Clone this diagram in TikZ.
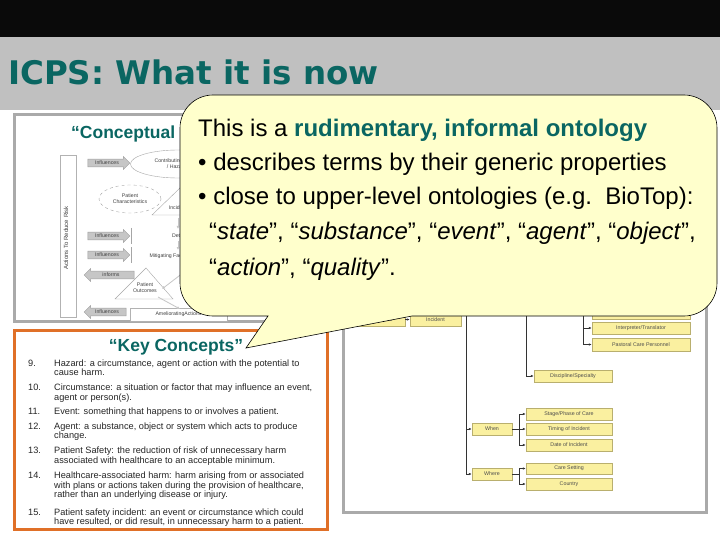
\documentclass[tikz,border=0pt]{standalone}
\usepackage{fontspec}
\setmainfont{Liberation Sans}
\newfontfamily\titlefont{DejaVu Sans}
\usetikzlibrary{shapes.geometric,shapes.arrows,arrows.meta}
\definecolor{tealA}{RGB}{10,102,98}
\definecolor{bandblack}{RGB}{10,10,10}
\definecolor{bandgray}{RGB}{192,192,192}
\definecolor{callfill}{RGB}{255,255,204}
\definecolor{orangeB}{RGB}{224,112,40}
\definecolor{panelgray}{RGB}{170,170,170}
\definecolor{ybox}{RGB}{250,240,160}
\definecolor{yboxb}{RGB}{185,175,110}
\tikzset{
  tinyt/.style={font=\fontsize{5.2}{5.8}\selectfont, text=black!75},
  infl/.style={single arrow, draw=gray!75, fill=gray!45, minimum height=42pt, minimum width=13pt, single arrow head extend=2pt, inner sep=0.8pt, tinyt},
  lg/.style={draw=gray!45, line width=0.8pt, -{Latex[length=3pt,width=3pt]}},
  yb/.style={draw=yboxb, fill=ybox, inner sep=0pt, font=\fontsize{5.3}{5.3}\selectfont, text=black!70},
  tarr/.style={draw=black!80, line width=0.5pt, -{Latex[length=3pt,width=2.4pt]}},
  tline/.style={draw=black!80, line width=0.5pt},
  kc/.style={anchor=base west, inner sep=0pt, font=\fontsize{9.2}{9.5}\selectfont, text=black!85},
  ct/.style={anchor=base west, inner sep=0pt, font=\fontsize{24}{24}\selectfont},
  head/.style={inner sep=0pt, font=\bfseries\fontsize{17.5}{17.5}\selectfont, text=tealA}
}
\begin{document}
\begin{tikzpicture}[x=1pt,y=-1pt]
\useasboundingbox (0,0) rectangle (720,540);
\fill[white] (0,0) rectangle (720,540);
% bands
\fill[bandblack] (0,0) rectangle (720,37);
\fill[bandgray] (0,37) rectangle (720,110);
\node[anchor=base west, inner sep=0pt, text=tealA, font=\titlefont\bfseries\fontsize{32.5}{32.5}\selectfont] (title) at (8,85) {ICPS: What it is now};

% ---------- left conceptual panel ----------
\draw[panelgray, line width=3pt] (14,114.5) rectangle (330,321.5);
\node[head, anchor=base west] (chead) at (71,139) {“Conceptual};
\node[draw=gray!60, fill=white, minimum width=16pt, minimum height=162pt, inner sep=0pt] (bar) at (68,236) {};
\node[tinyt, rotate=90, font=\fontsize{6}{6}\selectfont] (bart) at (66,238) {Actions To Reduce Risk};
\node[infl] (i1) at (107,163) {Influences};
\node[infl] (i2) at (107,236) {Influences};
\node[infl] (i3) at (107,255) {Influences};
\node[infl, shape border rotate=180, minimum height=50pt] (inf) at (111,275) {informs};
\node[infl, shape border rotate=180] (i4) at (107,312) {Influences};
\draw[gray!70] (131,228) -- (131,244);
\draw[gray!70] (131,247) -- (131,263);
\node[ellipse, draw=gray!70, minimum width=95pt, minimum height=28pt, align=center, tinyt, inner sep=0pt] (cf) at (178,164) {Contributing Factors\\/ Hazards};
\node[ellipse, draw=gray!70, dashed, minimum width=62pt, minimum height=28pt, align=center, tinyt, inner sep=0pt] (pc) at (130,199) {Patient\\Characteristics};
\draw[gray!70] (152,215) -- (180,188) -- (208,215) -- cycle;
\node[tinyt] (incd) at (178,208) {Incident};
\node[tinyt] (det) at (183,236) {Detection};
\node[tinyt, anchor=west] (mit) at (146,256) {Mitigating Factors};
\draw[gray!70] (115,299) -- (146,268) -- (173,299) -- cycle;
\node[tinyt, align=center] (po) at (145,288) {Patient\\Outcomes};
\node[draw=gray!60, fill=white, minimum width=97pt, minimum height=13pt, inner sep=0pt, tinyt] (am) at (178.5,314.5) {AmelioratingActions};
\draw[lg] (178,218) -- (178,229);
\draw[lg] (178,241) -- (178,250);
\draw[lg] (192,266) -- (162,289);
\draw[lg] (158,297) -- (180,309);

% ---------- key concepts panel ----------
\draw[orangeB, line width=3pt] (14,330) rectangle (327,529);
\node[head, anchor=base] (khead) at (176,351) {“Key Concepts”};
\node[kc] (n9) at (28,366) {9.};
\node[kc] (k9a) at (54,366) {Hazard: a circumstance, agent or action with the potential to};
\node[kc] (k9b) at (54,375) {cause harm.};
\node[kc] (n10) at (28,390) {10.};
\node[kc] (k10a) at (54,390) {Circumstance: a situation or factor that may influence an event,};
\node[kc] (k10b) at (54,400) {agent or person(s).};
\node[kc] (n11) at (28,414) {11.};
\node[kc] (k11) at (54,414) {Event: something that happens to or involves a patient.};
\node[kc] (n12) at (28,429) {12.};
\node[kc] (k12a) at (54,429) {Agent: a substance, object or system which acts to produce};
\node[kc] (k12b) at (54,438) {change.};
\node[kc] (n13) at (28,453.5) {13.};
\node[kc] (k13a) at (54,453.5) {Patient Safety: the reduction of risk of unnecessary harm};
\node[kc] (k13b) at (54,463) {associated with healthcare to an acceptable minimum.};
\node[kc] (n14) at (28,478.5) {14.};
\node[kc] (k14a) at (54,478.5) {Healthcare-associated harm: harm arising from or associated};
\node[kc] (k14b) at (54,488) {with plans or actions taken during the provision of healthcare,};
\node[kc] (k14c) at (54,497) {rather than an underlying disease or injury.};
\node[kc] (n15) at (28,515) {15.};
\node[kc] (k15a) at (54,515) {Patient safety incident: an event or circumstance which could};
\node[kc] (k15b) at (54,524) {have resulted, or did result, in unnecessary harm to a patient.};

% ---------- right tree panel ----------
\draw[panelgray, line width=3pt] (343,300) -- (343,512) -- (706,512) -- (706,300);
\node[yb, minimum width=47pt, minimum height=13pt] (fac) at (381.5,319.5) {Facilitator};
\node[yb, minimum width=51pt, minimum height=13pt] (inc) at (435.5,319.5) {Incident};
\node[yb, minimum width=40pt, minimum height=12pt] (when) at (492,429) {When};
\node[yb, minimum width=40pt, minimum height=12pt] (where) at (492,474) {Where};
\node[yb, minimum width=86pt, minimum height=12pt] (stage) at (569,414) {Stage/Phase of Care};
\node[yb, minimum width=86pt, minimum height=12pt] (timing) at (569,429) {Timing of Incident};
\node[yb, minimum width=86pt, minimum height=12pt] (date) at (569,445) {Date of Incident};
\node[yb, minimum width=86pt, minimum height=11pt] (care) at (569,468.5) {Care Setting};
\node[yb, minimum width=86pt, minimum height=12pt] (country) at (569,484) {Country};
\node[yb, minimum width=78pt, minimum height=12pt] (disc) at (573,376) {Discipline/Specialty};
\node[yb, minimum width=98pt, minimum height=14pt] (hid) at (641,312) {};
\node[yb, minimum width=98pt, minimum height=12pt] (interp) at (641,328) {Interpreter/Translator};
\node[yb, minimum width=98pt, minimum height=13pt] (past) at (641,344.5) {Pastoral Care Personnel};
\draw[tarr] (fac) -- (inc);
\coordinate (ttop) at (466,300);
\coordinate (twhen) at (466,429);
\coordinate (twhere) at (466,474);
\draw[tline] (ttop) -- (twhere);
\draw[tarr] (twhen) -- (when);
\draw[tarr] (twhere) -- (where);
\coordinate (wj) at (519,429);
\draw[tline] (when) -- (wj);
\draw[tarr] (wj) |- (stage);
\draw[tarr] (wj) -- (timing);
\draw[tarr] (wj) |- (date);
\coordinate (rj) at (519,474);
\draw[tline] (where) -- (rj);
\draw[tarr] (rj) |- (care);
\draw[tarr] (rj) |- (country);
\coordinate (dtop) at (526,300);
\draw[tarr] (dtop) |- (disc);
\coordinate (itop) at (583,300);
\draw[tarr] (itop) |- (hid);
\draw[tarr] (itop) |- (interp);
\draw[tarr] (itop) |- (past);

% ---------- callout ----------
\draw[black, line width=0.6pt, fill=callfill, rounded corners=33pt]
  (300,95) -- (717,95) -- (717,316) [sharp corners] -- (412,316) -- (246,348) -- (268,316)
  [rounded corners=33pt] -- (180,316) -- (180,95) -- cycle;
\node[ct] (l1) at (198,137) {This is a \textcolor{tealA}{\bfseries rudimentary, informal ontology}};
\node[ct] (l2) at (198,171) {• describes terms by their generic properties};
\node[ct] (l3) at (198,205) {• close to upper-level ontologies (e.g.\ \ BioTop):};
\node[ct] (l4) at (209,240) {“\textit{state}”, “\textit{substance}”, “\textit{event}”, “\textit{agent}”, “\textit{object}”,};
\node[ct] (l5) at (209,275) {“\textit{action}”, “\textit{quality}”.};
\end{tikzpicture}
\end{document}
